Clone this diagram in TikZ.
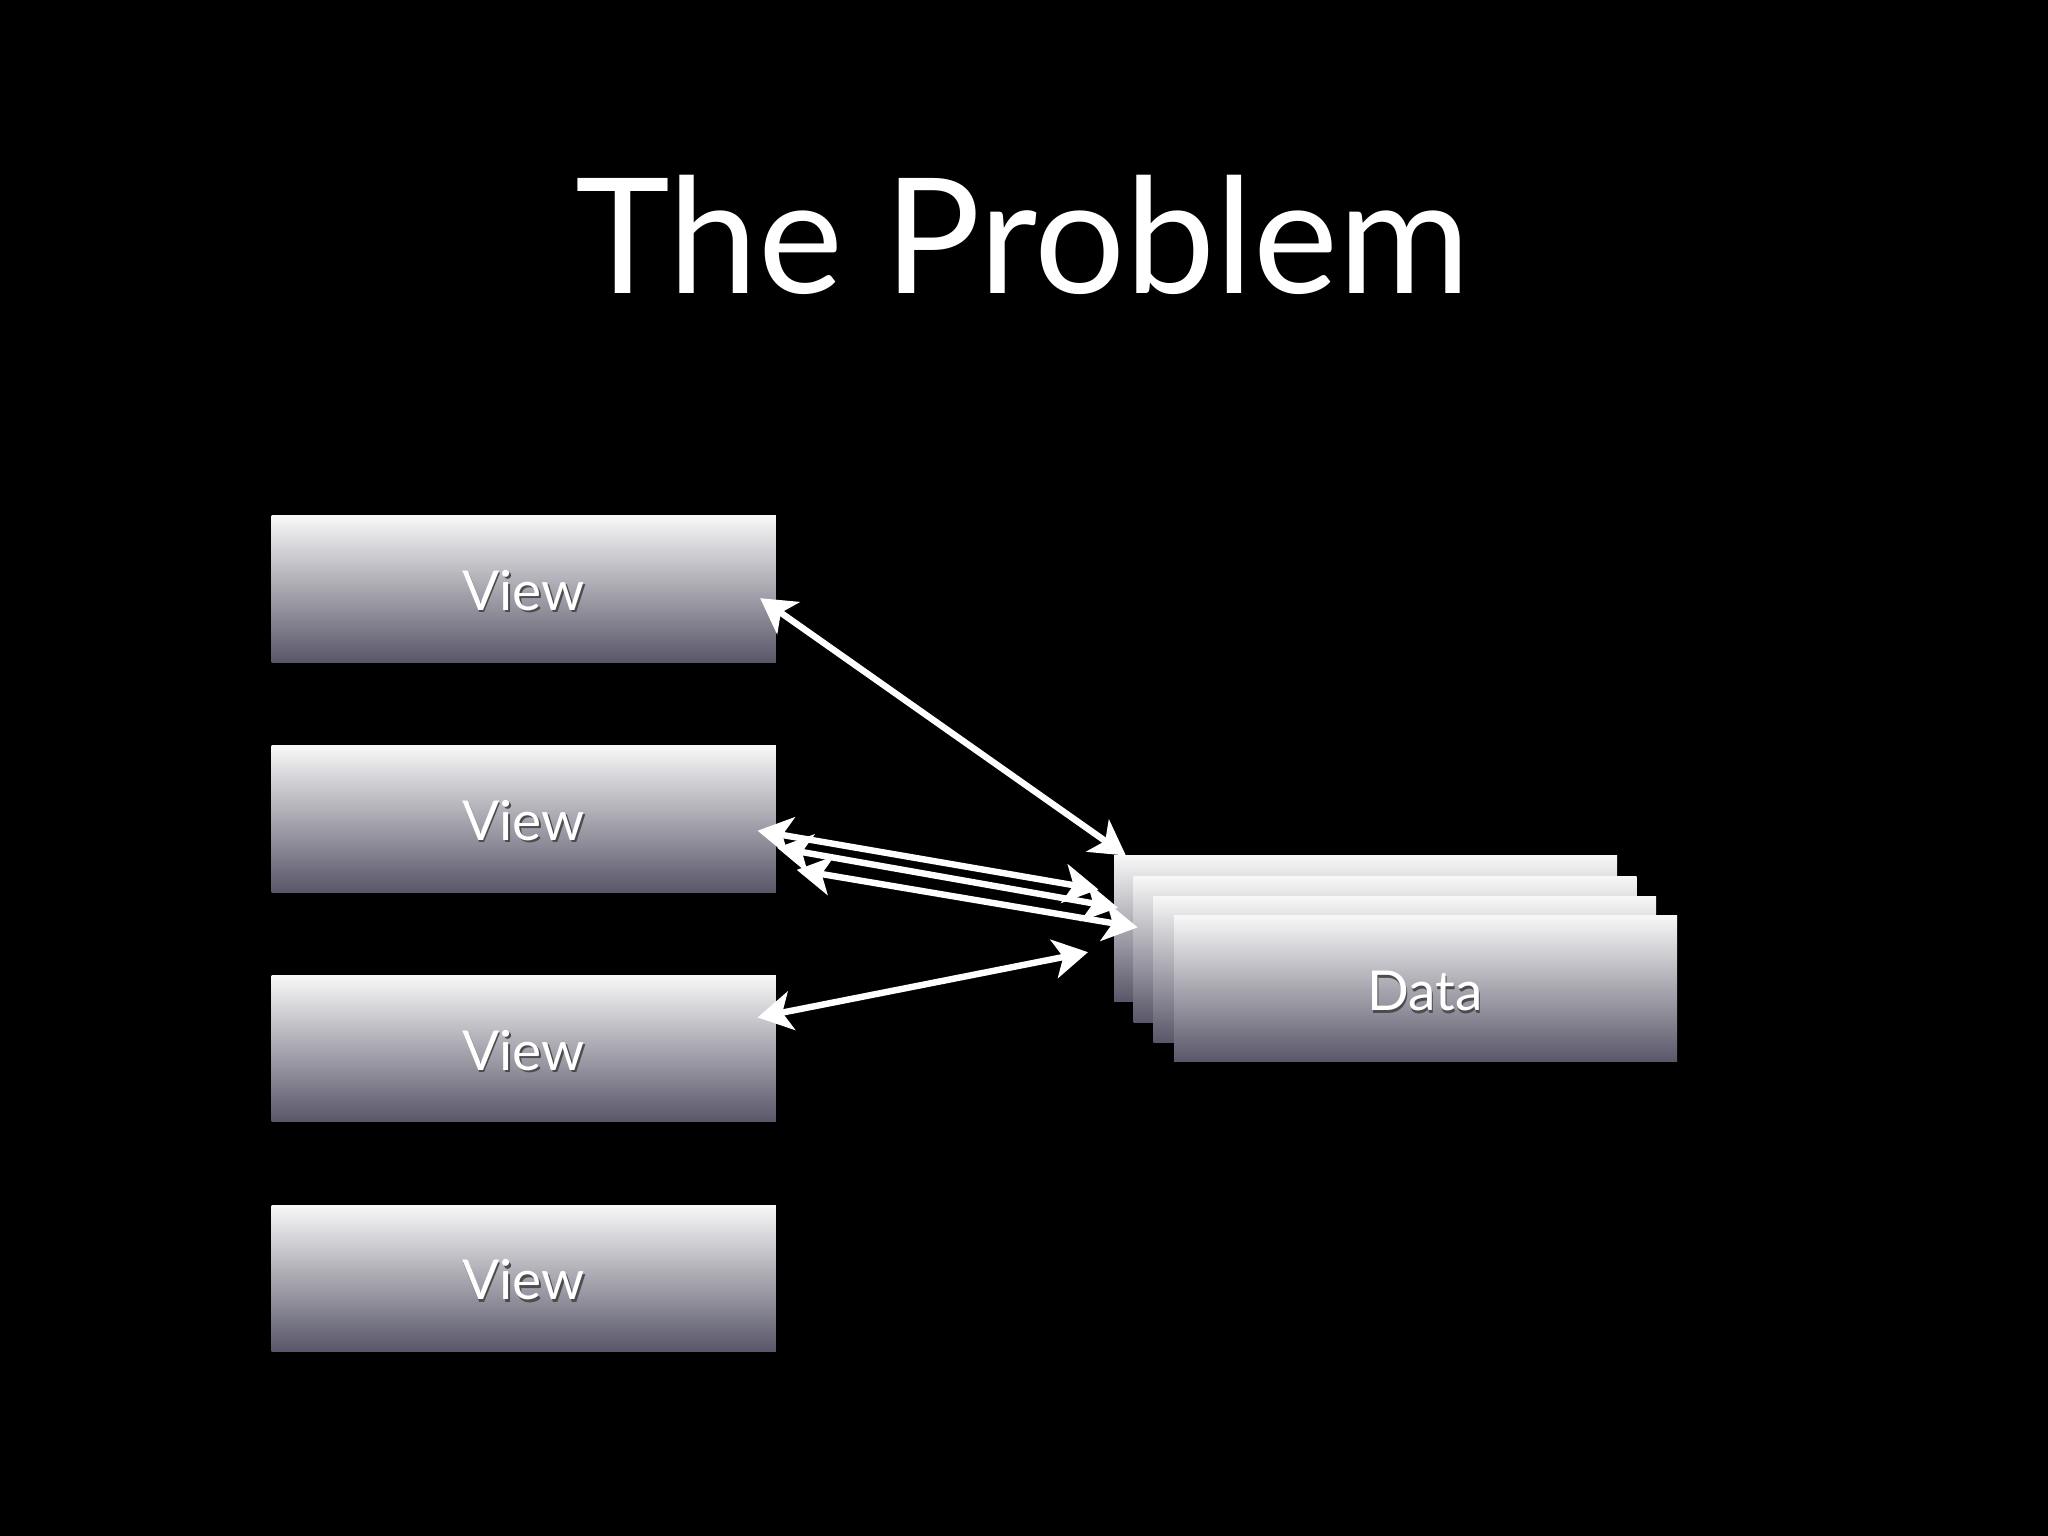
\documentclass[tikz,border=0pt]{standalone}
\usepackage{fontspec}
\setmainfont{Lato}
\usetikzlibrary{arrows.meta}
\begin{document}
\begin{tikzpicture}[x=0.02cm,y=-0.02cm,
  box/.style={top color=white!96!black,bottom color=black!45!blue!8!white!35!black, middle color=black!10!white!80!gray, draw=none},
  lbl/.style={text=white,font=\fontsize{24}{28}\selectfont},
  shd/.style={text=black!70,font=\fontsize{24}{28}\selectfont},
  arr/.style={draw=white,line width=2.8pt,{Stealth[length=15pt,width=17pt,inset=4pt]}-{Stealth[length=15pt,width=17pt,inset=4pt]}}]
\fill[black] (0,0) rectangle (1568,1176);
\node[text=white,font=\fontsize{70}{80}\selectfont] (title) at (783,180) {The Problem};
\foreach \i/\y in {1/395,2/571,3/747,4/923}{
  \shade[top color=white!97!black,bottom color={rgb,255:red,88;green,86;blue,104}] (208,\y) rectangle (594,\y+112);
  \node[shd] at (402,\y+59) {View};
  \node[lbl] (v\i) at (401,\y+57) {View};
}
\foreach \x/\y in {853/655,868/671,883/686,899/701}{
  \shade[top color=white!97!black,bottom color={rgb,255:red,88;green,86;blue,104}] (\x,\y) rectangle (\x+385,\y+112);
}
\node[shd] at (1092,761) {Data};
\node[lbl] (data) at (1091,759) {Data};
\coordinate (a1) at (582,458); \coordinate (b1) at (862,655);
\coordinate (a2) at (580,636); \coordinate (b2) at (841,681);
\coordinate (a3) at (595,649); \coordinate (b3) at (856,695);
\coordinate (a4) at (610,666); \coordinate (b4) at (871,710);
\coordinate (a5) at (580,779); \coordinate (b5) at (833,729);
\foreach \k in {1,...,5}{\draw[arr] (a\k) -- (b\k);}
\end{tikzpicture}
\end{document}
